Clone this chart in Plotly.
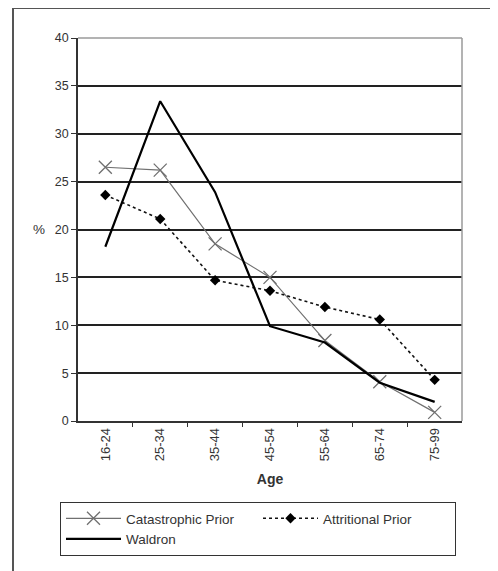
import plotly.graph_objects as go

ages = ["16-24", "25-34", "35-44", "45-54", "55-64", "65-74", "75-99"]
catastrophic = [26.5, 26.2, 18.5, 15.0, 8.4, 4.1, 0.9]
attritional = [23.6, 21.1, 14.7, 13.6, 11.9, 10.6, 4.3]
waldron = [18.2, 33.4, 23.9, 9.9, 8.2, 4.0, 2.0]

OFF = 8  # page body margin
W, H = 498 - OFF, 571 - OFF
ml, mt = 78 - OFF, 38 - OFF
pw, ph = 384, 383
mr = W - ml - pw
mb = H - mt - ph

def px_x(x):
    return (x - OFF - ml) / pw

def px_y(y):
    return (mt + ph - (y - OFF)) / ph

fig = go.Figure()
fig.add_trace(go.Scatter(
    x=ages, y=catastrophic, name="Catastrophic Prior", mode="lines+markers",
    line=dict(color="#707070", width=1.2),
    marker=dict(symbol="x-thin-open", size=13, line=dict(color="#707070", width=1.3), color="#707070"),
))
fig.add_trace(go.Scatter(
    x=ages, y=attritional, name="Attritional Prior", mode="lines+markers",
    line=dict(color="#111111", width=1.6, dash="dot"),
    marker=dict(symbol="diamond", size=8, color="#000000"),
))
fig.add_trace(go.Scatter(
    x=ages, y=waldron, name="Waldron", mode="lines",
    line=dict(color="#000000", width=2.2),
))

font = "Liberation Sans, Arial, sans-serif"
fig.update_layout(
    width=W, height=H,
    margin=dict(l=ml, r=mr, t=mt, b=mb, autoexpand=False),
    paper_bgcolor="white", plot_bgcolor="white",
    font=dict(family=font, size=12, color="#333333"),
    showlegend=True,
    legend=dict(
        orientation="h", x=px_x(60), y=px_y(502), xanchor="left", yanchor="top",
        bordercolor="#333333", borderwidth=1, entrywidth=127, itemwidth=55,
        font=dict(family=font, size=13.5, color="#333333"),
        traceorder="normal",
    ),
    xaxis=dict(
        type="category", tickson="boundaries", ticks="outside", ticklen=4,
        tickcolor="#333333", tickangle=-90, showline=True, linecolor="#333333",
        linewidth=1.5, showgrid=False, zeroline=False,
        title=dict(text="<b>Age</b>", font=dict(size=14, color="#333333"), standoff=14),
        tickfont=dict(size=13, color="#333333"),
    ),
    yaxis=dict(
        range=[0, 40], dtick=5, ticks="outside", ticklen=5, tickcolor="#333333",
        showline=True, linecolor="#333333", linewidth=1.5,
        showgrid=True, gridcolor="#222222", gridwidth=1.5, zeroline=False,
        tickfont=dict(size=12.5, color="#333333"),
    ),
    annotations=[dict(
        text="%", xref="paper", yref="y", x=px_x(39), y=20, showarrow=False,
        xanchor="center", yanchor="middle", font=dict(size=13.5, color="#333333"),
    )],
    shapes=[
        dict(type="line", xref="paper", yref="paper", x0=0, x1=1, y0=1, y1=1,
             line=dict(color="#9a9a9a", width=1.5), layer="above"),
        dict(type="line", xref="paper", yref="paper", x0=1, x1=1, y0=0, y1=1,
             line=dict(color="#9a9a9a", width=1.5), layer="above"),
        dict(type="rect", xref="paper", yref="paper",
             x0=px_x(13), x1=px_x(520), y0=px_y(590), y1=px_y(8),
             line=dict(color="#555555", width=2), layer="below"),
    ],
)

fig.write_html("out.html")
